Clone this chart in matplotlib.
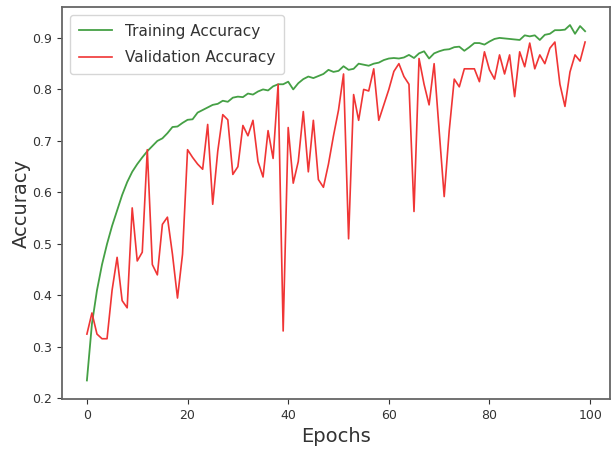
import numpy as np
import matplotlib
matplotlib.use("Agg")
import matplotlib.pyplot as plt

# accuracy per epoch
train_acc = [
    0.235, 0.345, 0.41, 0.46, 0.50, 0.535, 0.565, 0.595, 0.62, 0.64,
    0.655, 0.668, 0.68, 0.69, 0.70, 0.705, 0.715, 0.727, 0.728, 0.735,
    0.741, 0.742, 0.755, 0.76, 0.765, 0.77, 0.772, 0.778, 0.776, 0.784,
    0.786, 0.785, 0.792, 0.79, 0.796, 0.80, 0.798, 0.806, 0.81, 0.81,
    0.815, 0.80, 0.812, 0.82, 0.825, 0.822, 0.826, 0.83, 0.838, 0.834,
    0.836, 0.845, 0.838, 0.84, 0.85, 0.848, 0.846, 0.85, 0.852, 0.857,
    0.86, 0.861, 0.86, 0.862, 0.867, 0.861, 0.87, 0.874, 0.86, 0.87,
    0.874, 0.877, 0.878, 0.882, 0.883, 0.875, 0.882, 0.89, 0.89, 0.887,
    0.893, 0.898, 0.90, 0.899, 0.898, 0.897, 0.896, 0.905, 0.903, 0.905,
    0.896, 0.906, 0.908, 0.915, 0.915, 0.916, 0.925, 0.908, 0.923, 0.913,
]
val_acc = [
    0.325, 0.366, 0.325, 0.316, 0.316, 0.41, 0.474, 0.39, 0.376, 0.57,
    0.467, 0.484, 0.683, 0.46, 0.44, 0.538, 0.552, 0.48, 0.395, 0.48,
    0.683, 0.668, 0.655, 0.645, 0.732, 0.577, 0.68, 0.751, 0.741, 0.635,
    0.65, 0.73, 0.71, 0.74, 0.66, 0.63, 0.72, 0.666, 0.81, 0.331,
    0.726, 0.618, 0.66, 0.757, 0.64, 0.74, 0.625, 0.61, 0.655, 0.71,
    0.76, 0.83, 0.51, 0.79, 0.74, 0.80, 0.797, 0.84, 0.74, 0.77,
    0.80, 0.835, 0.85, 0.825, 0.81, 0.563, 0.86, 0.81, 0.77, 0.85,
    0.72, 0.592, 0.72, 0.82, 0.805, 0.84, 0.84, 0.84, 0.815, 0.873,
    0.838, 0.82, 0.867, 0.83, 0.867, 0.786, 0.873, 0.844, 0.89, 0.84,
    0.867, 0.85, 0.88, 0.892, 0.81, 0.767, 0.834, 0.867, 0.855, 0.892,
]
epochs = np.arange(len(train_acc))

fig = plt.figure(figsize=(6.13, 4.55), dpi=100)
ax = fig.add_axes([62 / 613, 1 - 399 / 455, 548 / 613, 392 / 455])

ax.plot(epochs, train_acc, color="#45a045", lw=1.3, label="Training Accuracy")
ax.plot(epochs, val_acc, color="#f03535", lw=1.2, label="Validation Accuracy")

ax.set_ylim(0.199, 0.96)
ax.set_xlabel("Epochs", fontsize=14, color="#333333")
ax.set_ylabel("Accuracy", fontsize=14, color="#333333", labelpad=1)
ax.tick_params(labelsize=9, colors="#333333")
for s in ax.spines.values():
    s.set_color("#666666")
    s.set_linewidth(1.3)

ax.legend(loc="upper left", fontsize=11, labelcolor="#333333",
          labelspacing=0.75, borderpad=0.6, handlelength=2.2)

fig.savefig("out.png", dpi=100)
